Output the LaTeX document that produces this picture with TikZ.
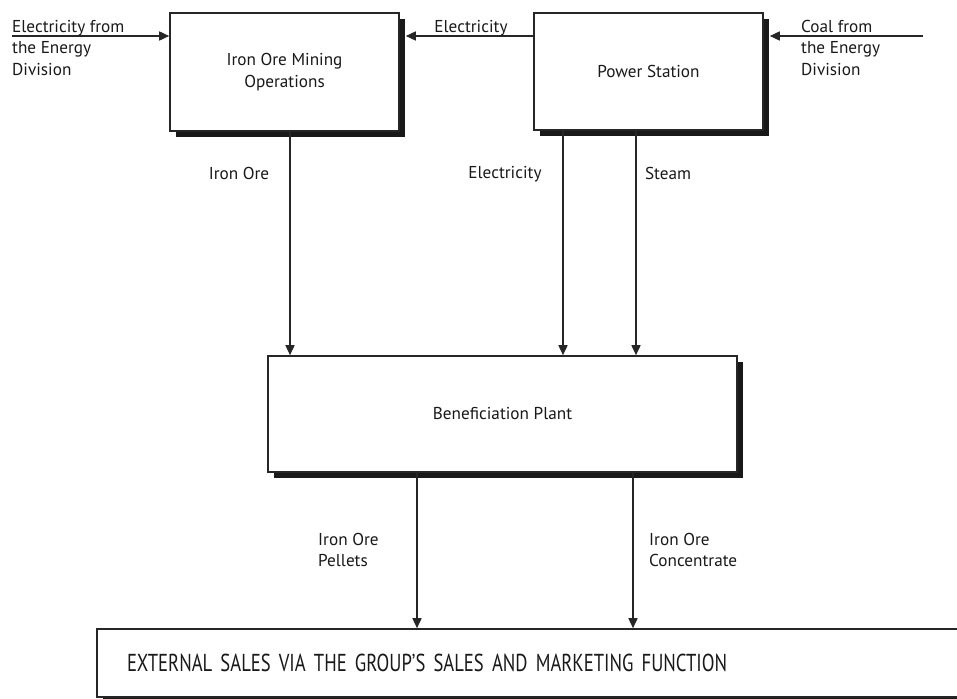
\documentclass[tikz,border=0pt]{standalone}
\usepackage{fontspec}
\setmainfont{PT Sans}
\newfontfamily\salesfont[FakeStretch=0.76]{PT Sans}
\usetikzlibrary{arrows.meta}
\usetikzlibrary{shadows}
\usetikzlibrary{positioning}

\begin{document}
\begin{tikzpicture}[x=1pt,y=-1pt,
  box/.style={draw=black!85,fill=white,line width=1.6pt,inner sep=0pt,align=center,text=black!90,
    font=\fontsize{17.2}{21.5}\selectfont,
    drop shadow={shadow xshift=6pt,shadow yshift=-6pt,fill=black!90,opacity=1}},
  flow/.style={draw=black!85,line width=1.6pt,-{Triangle[length=10pt,width=9pt]}},
  lbl/.style={inner sep=0pt,align=left,text=black!90,font=\fontsize{17.2}{21.5}\selectfont}]
\useasboundingbox (0,0) rectangle (957,698);
\clip (0,0) rectangle (957,698);

\node[box,minimum width=229pt,minimum height=118pt] (mine) at (284.5,72) {Iron Ore Mining\\Operations};
\node[box,minimum width=229pt,minimum height=117pt] (power) at (648.5,71.5) {Power Station};
\node[box,minimum width=469pt,minimum height=116pt] (benef) at (502.5,414) {Beneficiation Plant};
\node[box,minimum height=68pt,text width=813pt,inner xsep=30pt,align=left,
  font=\salesfont\fontsize{24.5}{28}\selectfont] (sales) at (533.5,663) {EXTERNAL SALES VIA THE GROUP’S SALES AND MARKETING FUNCTION};

\coordinate (efrom) at (12,36);
\coordinate (coalsrc) at (923,36);
\path (mine.east) ++(6,0) coordinate (mineedge);
\path (power.east) ++(6,0) coordinate (poweredge);
\coordinate (xore) at (290,0);
\coordinate (xelec) at (563,0);
\coordinate (xsteam) at (636,0);
\coordinate (xpellet) at (417,0);
\coordinate (xconc) at (633,0);

\draw[flow] (efrom) -- (efrom -| mine.west);
\draw[flow] (efrom -| power.west) -- (efrom -| mineedge);
\draw[flow] (coalsrc) -- (coalsrc -| poweredge);
\draw[flow] (xore |- mine.south) -- (xore |- benef.north);
\draw[flow] (xelec |- power.south) -- (xelec |- benef.north);
\draw[flow] (xsteam |- power.south) -- (xsteam |- benef.north);
\draw[flow] (xpellet |- benef.south) -- (xpellet |- sales.north);
\draw[flow] (xconc |- benef.south) -- (xconc |- sales.north);

\node[lbl,anchor=north west] (elecfromlbl) at (12,20) {Electricity from\\the Energy\\Division};
\node[lbl,anchor=north west] (coallbl) at (801,20) {Coal from\\the Energy\\Division};
\node[lbl] (elecmidlbl) at (471,28) {Electricity};
\node[lbl] (orelbl) at (239,173) {Iron Ore};
\node[lbl] (elecpowlbl) at (505,174.5) {Electricity};
\node[lbl] (steamlbl) at (668,173) {Steam};
\node[lbl,anchor=north west] (pelletlbl) at (318,533) {Iron Ore\\Pellets};
\node[lbl,anchor=north west] (conclbl) at (649,533) {Iron Ore\\Concentrate};

\end{tikzpicture}
\end{document}
